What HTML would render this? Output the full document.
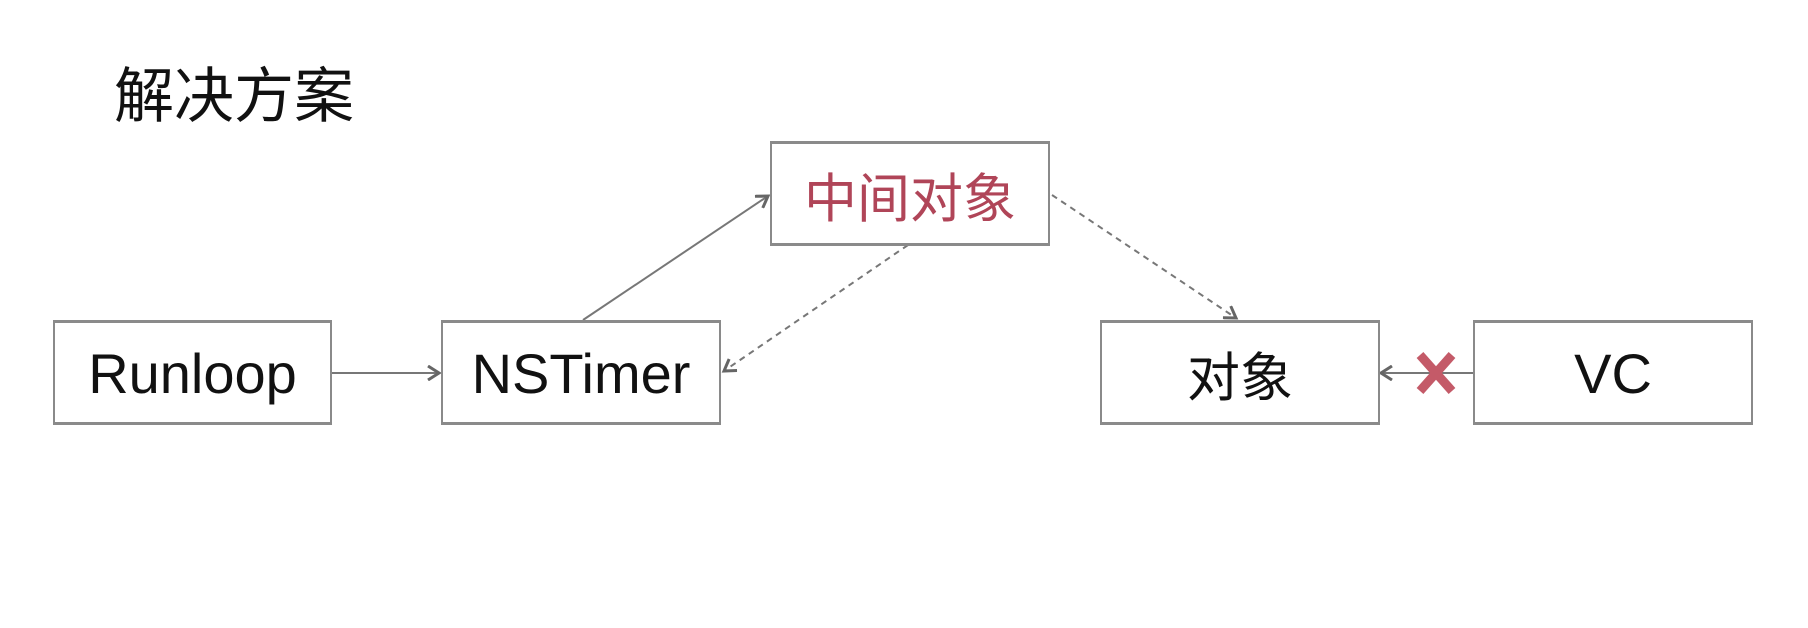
<!DOCTYPE html>
<html><head><meta charset="utf-8"><style>
body{margin:0;width:1808px;height:628px;background:#fff;overflow:hidden;position:relative;font-family:"Liberation Sans","Noto Sans CJK SC",sans-serif}
.b{position:absolute;box-sizing:border-box;border:2px solid #8a8a8a;border-top-width:3px;border-bottom-width:3px;background:#fff;display:flex;align-items:center;justify-content:center;font-size:56px;color:#111;padding-top:2px}
</style></head><body>
<div style="position:absolute;left:114px;top:48px;font-size:60px;color:#111;font-family:'Noto Sans CJK SC',sans-serif">解决方案</div>
<svg width="1808" height="628" style="position:absolute;left:0;top:0">
<defs><marker id="a" markerWidth="16" markerHeight="16" refX="13" refY="8" orient="auto" markerUnits="userSpaceOnUse"><path d="M2,1 L13,8 L2,15" fill="none" stroke="#666" stroke-width="3"/></marker></defs>
<g stroke="#777" stroke-width="2" fill="none">
<line x1="332" y1="373" x2="439" y2="373" marker-end="url(#a)"/>
<line x1="583" y1="320" x2="768" y2="196" marker-end="url(#a)"/>
<line x1="908" y1="245" x2="724" y2="371" stroke-dasharray="6,5" marker-end="url(#a)"/>
<line x1="1052" y1="195" x2="1236" y2="318" stroke-dasharray="6,5" marker-end="url(#a)"/>
<line x1="1473" y1="373" x2="1381" y2="373" marker-end="url(#a)"/>
</g>
<g stroke="#c45a68" stroke-width="9" stroke-linecap="butt">
<line x1="1420" y1="355" x2="1452" y2="391"/><line x1="1452" y1="355" x2="1420" y2="391"/>
</g>
</svg>
<div class="b" style="left:770px;top:141px;width:280px;height:105px;color:#b04558;font-size:53px;font-family:'Noto Sans CJK SC',sans-serif">中间对象</div>
<div class="b" style="left:53px;top:320px;width:279px;height:105px">Runloop</div>
<div class="b" style="left:441px;top:320px;width:280px;height:105px">NSTimer</div>
<div class="b" style="left:1100px;top:320px;width:280px;height:105px;font-size:53px;font-family:'Noto Sans CJK SC',sans-serif">对象</div>
<div class="b" style="left:1473px;top:320px;width:280px;height:105px">VC</div>
</body></html>
